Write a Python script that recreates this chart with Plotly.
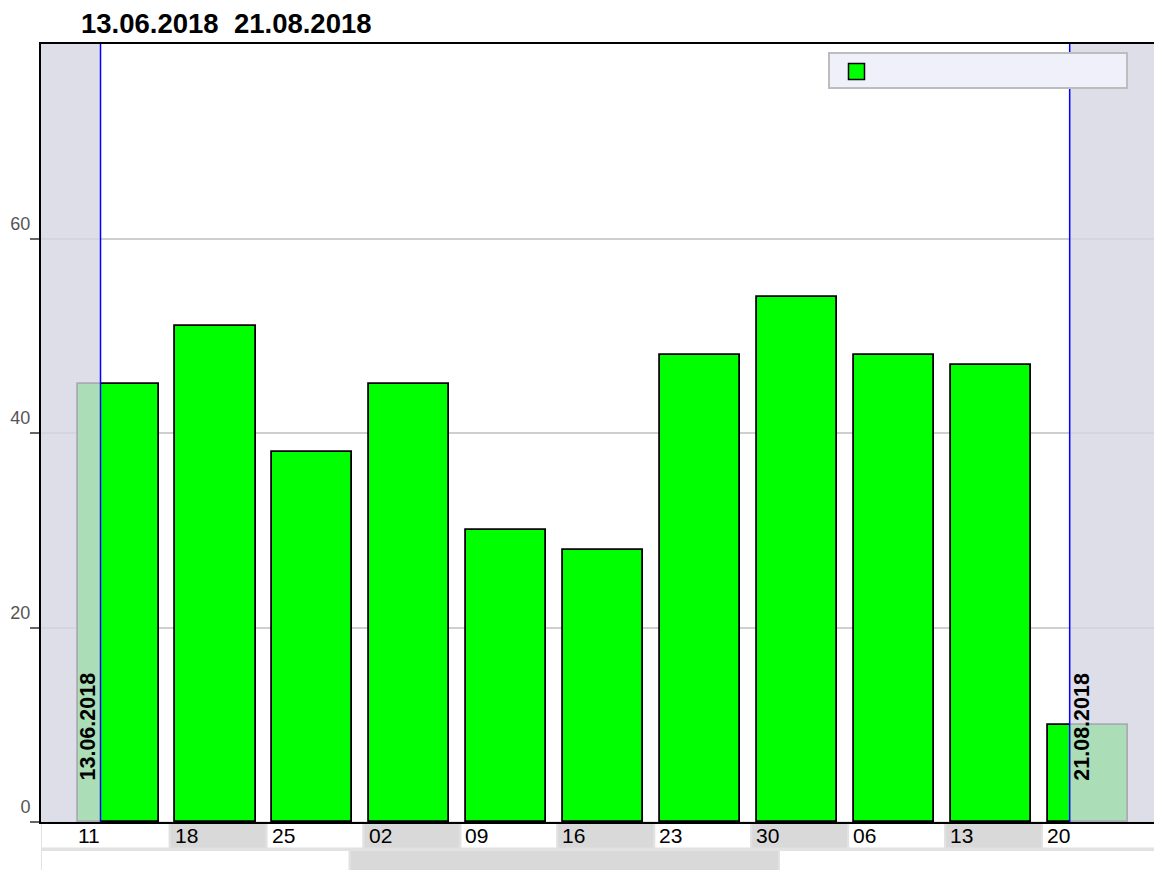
import pandas as pd
import plotly.graph_objects as go

# ---- data ----
week_starts = ["2018-06-11", "2018-06-18", "2018-06-25", "2018-07-02", "2018-07-09",
               "2018-07-16", "2018-07-23", "2018-07-30", "2018-08-06", "2018-08-13",
               "2018-08-20"]
week_labels = ["11", "18", "25", "02", "09", "16", "23", "30", "06", "13", "20"]
values = [45, 51, 38, 45, 30, 28, 48, 54, 48, 47, 10]
month_starts = ["2018-06-01", "2018-07-01", "2018-08-01"]
period_start = "2018-06-13"
period_end = "2018-08-22"          # end of 21.08.2018
period_labels = ["13.06.2018", "21.08.2018"]
y_ticks = [0, 20, 40, 60]

# ---- layout constants ----
W, H = 1154, 870
ML, MR, MT, MB = 41, 0, 44, 48
PW, PH = W - ML - MR, H - MT - MB
FONT = "Liberation Sans, Arial, Helvetica, sans-serif"
DAY_MS = 86400000

x_start = pd.Timestamp("2018-06-08 16:51")
x_end = pd.Timestamp("2018-08-28 02:10")


def py(px):  # pixel y -> paper y
    return 1 - (px - MT) / PH


def pxx(px):  # pixel x -> paper x
    return (px - ML) / PW


fig = go.Figure()

fig.add_trace(go.Bar(
    x=week_starts, y=values,
    offset=0.4 * DAY_MS, width=5.8 * DAY_MS,
    marker=dict(color="#00ff00", line=dict(color="#000000", width=1.8)),
    showlegend=False, hoverinfo="y",
))
# legend entry (marker only, no name)
fig.add_trace(go.Scatter(
    x=[None], y=[None], mode="markers", name="",
    marker=dict(symbol="square", size=16, color="#00ff00",
                line=dict(color="#000000", width=1.5)),
    showlegend=True,
))

shapes = []
# shaded out-of-period regions
shapes.append(dict(type="rect", xref="x", yref="paper", x0=x_start,
                   x1=period_start, y0=0, y1=1, fillcolor="rgba(214,214,228,0.8)",
                   line=dict(width=0), layer="above"))
shapes.append(dict(type="rect", xref="x", yref="paper", x0=period_end,
                   x1=x_end + pd.Timedelta(days=2), y0=0, y1=1,
                   fillcolor="rgba(214,214,228,0.8)", line=dict(width=0), layer="above"))
# guide lines
for d in (period_start, period_end):
    shapes.append(dict(type="line", xref="x", yref="paper", x0=d, x1=d, y0=0, y1=1,
                       line=dict(color="#0000ff", width=1.5), layer="above"))

# category band row 1 (weeks)
r1_top, r1_bot = py(MT + PH), py(848.5)
for i, ws in enumerate(week_starts):
    x0 = pd.Timestamp(ws) if i > 0 else x_start
    x1 = pd.Timestamp(week_starts[i + 1]) if i + 1 < len(week_starts) else x_end + pd.Timedelta(days=2)
    shapes.append(dict(type="rect", xref="x", yref="paper", x0=x0, x1=x1,
                       y0=r1_bot, y1=r1_top,
                       fillcolor="#ffffff" if i % 2 == 0 else "#d9d9d9",
                       line=dict(color="#e2e2e2", width=2), layer="below"))
# category band row 2 (months)
r2_top, r2_bot = py(850), py(H + 12)
for i, ms in enumerate(month_starts):
    x0 = pd.Timestamp(ms) if i > 0 else x_start
    x1 = pd.Timestamp(month_starts[i + 1]) if i + 1 < len(month_starts) else x_end + pd.Timedelta(days=2)
    shapes.append(dict(type="rect", xref="x", yref="paper", x0=max(x0, x_start), x1=x1,
                       y0=r2_bot, y1=r2_top,
                       fillcolor="#ffffff" if i % 2 == 0 else "#d9d9d9",
                       line=dict(color="#e2e2e2", width=2), layer="below"))
# legend box
shapes.append(dict(type="rect", xref="paper", yref="paper",
                   x0=pxx(829), x1=pxx(1127), y0=py(88), y1=py(53),
                   fillcolor="#f0f0fa", line=dict(color="#bdbdbd", width=2), layer="above"))

annotations = []
# title
annotations.append(dict(text="<b>" + period_labels[0] + "\u00a0\u00a0" + period_labels[1] + "</b>",
                        xref="paper", yref="paper", x=pxx(79), y=py(23.5),
                        xanchor="left", yanchor="middle", showarrow=False,
                        font=dict(family=FONT, size=27.5, color="#000000")))
# rotated guide labels
annotations.append(dict(text="<b>" + period_labels[0] + "</b>", xref="x", yref="paper",
                        x=period_start, y=py(783), xanchor="right", yanchor="bottom",
                        textangle=-90, showarrow=False, xshift=1,
                        font=dict(family=FONT, size=21.5, color="#000000")))
annotations.append(dict(text="<b>" + period_labels[1] + "</b>", xref="x", yref="paper",
                        x=period_end, y=py(783), xanchor="left", yanchor="bottom",
                        textangle=-90, showarrow=False, xshift=-2,
                        font=dict(family=FONT, size=21.5, color="#000000")))
# week labels
for ws, lab in zip(week_starts, week_labels):
    annotations.append(dict(text=lab, xref="x", yref="paper", x=ws, y=py(835.5),
                            xanchor="left", yanchor="middle", showarrow=False, xshift=3,
                            font=dict(family=FONT, size=21, color="#000000")))

fig.update_layout(
    width=W, height=H,
    margin=dict(l=ML, r=MR, t=MT, b=MB, pad=0),
    paper_bgcolor="#ffffff", plot_bgcolor="#ffffff",
    font=dict(family=FONT),
    bargap=0,
    shapes=shapes, annotations=annotations,
    legend=dict(x=pxx(836.5), y=py(56), xanchor="left", yanchor="top",
                bgcolor="rgba(0,0,0,0)", borderwidth=0,
                font=dict(family=FONT, size=14, color="#000000")),
    xaxis=dict(type="date", range=[x_start, x_end], showgrid=False, zeroline=False,
               showticklabels=False, ticks="", showline=True, linecolor="#000000",
               linewidth=2, mirror=True, fixedrange=True),
    yaxis=dict(range=[0, 80], tickvals=y_ticks, ticktext=[str(v) for v in y_ticks],
               showgrid=True, gridcolor="#cfcfcf", gridwidth=1.5, zeroline=False,
               showline=True, linecolor="#000000", linewidth=2,
               ticks="outside", ticklen=9, tickcolor="#666666", tickwidth=1.5,
               ticklabelshift=-15, ticklabelstandoff=-4,
               tickfont=dict(family=FONT, size=18, color="#555555"), fixedrange=True),
)

fig.write_html("out.html", config={"displayModeBar": False},
               post_script="document.body.style.margin='0';")
